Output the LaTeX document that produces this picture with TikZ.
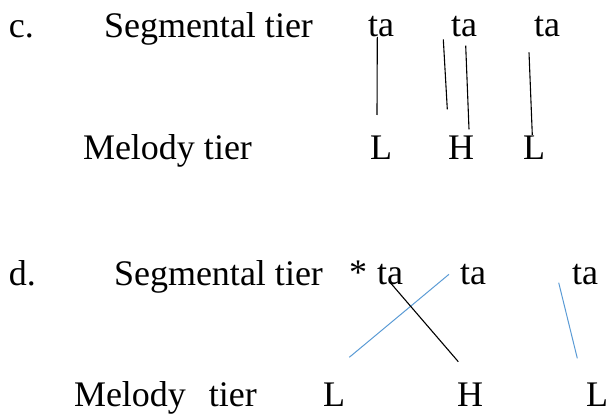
\documentclass[tikz,border=0pt]{standalone}
\usepackage{fontspec}
\setmainfont{Liberation Serif}
\definecolor{lineblue}{RGB}{91,155,213}
\begin{document}
\begin{tikzpicture}[x=1pt,y=-1pt,
  txt/.style={anchor=base west,inner sep=0pt,outer sep=0pt,font=\fontsize{36}{43}\selectfont},
  assoc/.style={draw=black,line width=1.1pt},
  bassoc/.style={draw=lineblue,line width=1pt}]
\useasboundingbox (0,0) rectangle (610,414);
% row c
\node[txt] (c) at (9,38) {c.};
\node[txt] (segc) at (104,38) {Segmental tier};
\node[txt] (tac1) at (368,37) {ta};
\node[txt] (tac2) at (451,37) {ta};
\node[txt] (tac3) at (534,37) {ta};
\node[txt] (melc) at (83,160) {Melody tier};
\node[txt] (Lc1) at (370,160) {L};
\node[txt] (Hc) at (448,160) {H};
\node[txt] (Lc2) at (523,160) {L};
% row d
\node[txt] (d) at (9,285) {d.};
\node[txt] (segd) at (114,285) {Segmental tier};
\node[txt] (star) at (349,284) {*};
\node[txt] (tad1) at (377,284) {ta};
\node[txt] (tad2) at (460,284) {ta};
\node[txt] (tad3) at (572,284) {ta};
\node[txt] (meld) at (74,406) {Melody\hspace{23pt}tier};
\node[txt] (Ld1) at (323,406) {L};
\node[txt] (Hd) at (457,406) {H};
\node[txt] (Ld2) at (586,406) {L};
% association line endpoints (c)
\coordinate (c1a) at (377.3,37);
\coordinate (c1b) at (377,115);
\coordinate (c2a) at (443.3,39.3);
\coordinate (c2b) at (447.3,109.3);
\coordinate (c3a) at (465.7,45.7);
\coordinate (c3b) at (469,129.3);
\coordinate (c4a) at (529,52.3);
\coordinate (c4b) at (532.3,135);
\draw[assoc] (c1a) -- (c1b);
\draw[assoc] (c2a) -- (c2b);
\draw[assoc] (c3a) -- (c3b);
\draw[assoc] (c4a) -- (c4b);
% association line endpoints (d)
\coordinate (d1a) at (349.3,357.3);
\coordinate (d1b) at (449,274.3);
\coordinate (d2a) at (390,282.3);
\coordinate (d2b) at (458.3,361.7);
\coordinate (d3a) at (558.7,282.7);
\coordinate (d3b) at (577.3,358.3);
\draw[bassoc] (d1a) -- (d1b);
\draw[assoc] (d2a) -- (d2b);
\draw[bassoc] (d3a) -- (d3b);
\end{tikzpicture}
\end{document}
